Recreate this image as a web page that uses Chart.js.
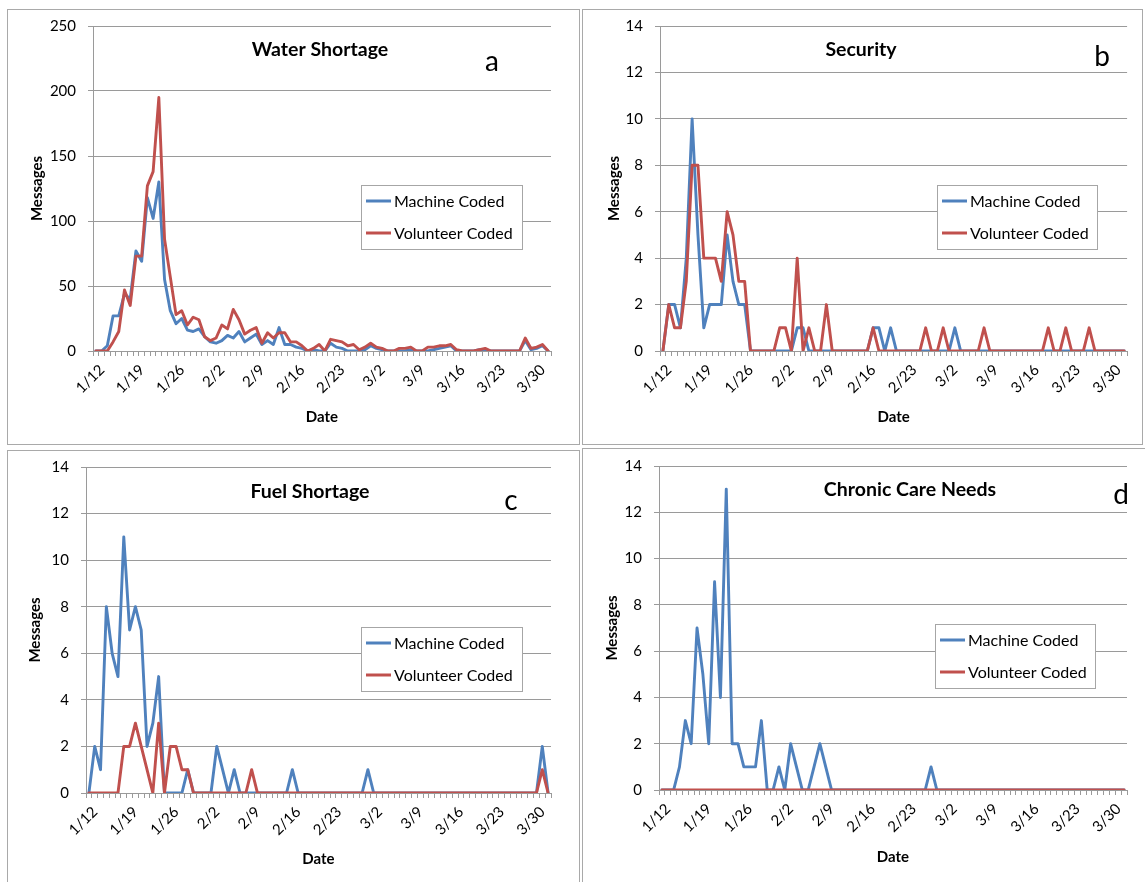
<!DOCTYPE html>
<html>
<head>
<meta charset="utf-8">
<title>Message counts by topic</title>
<script src="https://cdn.jsdelivr.net/npm/chart.js@4.4.1/dist/chart.umd.min.js"></script>
<style>
  html, body { margin: 0; padding: 0; background: #fff; }
  #page { position: relative; width: 1145px; height: 882px; overflow: hidden; background: #fff; }
  .panel { position: absolute; border: 1px solid #a9a9a9; box-sizing: border-box; background: #fff; }
  .panel canvas { position: absolute; left: 0; top: 0; }
</style>
</head>
<body>
<div id="page"></div>

<script>
const dates = [
  '1/12','1/13','1/14','1/15','1/16','1/17','1/18','1/19','1/20','1/21',
  '1/22','1/23','1/24','1/25','1/26','1/27','1/28','1/29','1/30','1/31',
  '2/1','2/2','2/3','2/4','2/5','2/6','2/7','2/8','2/9','2/10',
  '2/11','2/12','2/13','2/14','2/15','2/16','2/17','2/18','2/19','2/20',
  '2/21','2/22','2/23','2/24','2/25','2/26','2/27','2/28','3/1','3/2',
  '3/3','3/4','3/5','3/6','3/7','3/8','3/9','3/10','3/11','3/12',
  '3/13','3/14','3/15','3/16','3/17','3/18','3/19','3/20','3/21','3/22',
  '3/23','3/24','3/25','3/26','3/27','3/28','3/29','3/30','3/31','4/1'
];
const weekLabels = ['1/12','1/19','1/26','2/2','2/9','2/16','2/23','3/2','3/9','3/16','3/23','3/30'];

const waterMachine = [
  0,0,4,27,27,44,40,77,69,118, 102,130,55,31,21,25,16,15,17,11,
  7,6,8,12,10,15,7,10,13,5, 8,5,18,5,5,3,2,0,1,0,
  0,6,3,2,0,0,0,1,4,2, 1,0,0,0,0,1,0,0,0,1,
  2,3,4,0,0,0,0,1,1,0, 0,0,0,0,0,8,1,2,4,0
];
const waterVolunteer = [
  0,0,0,7,15,47,35,73,73,127, 138,195,86,57,28,31,20,26,24,11,
  8,10,20,17,32,24,13,16,18,6, 14,10,14,14,7,7,4,0,2,5,
  0,9,8,7,4,5,1,3,6,3, 2,0,0,2,2,3,0,0,3,3,
  4,4,5,1,0,0,0,1,2,0, 0,0,0,0,0,10,2,3,5,0
];
const securityMachine = [
  0,2,2,1,4,10,5,1,2,2, 2,5,3,2,2,0,0,0,0,0,
  0,0,0,1,1,0,0,0,0,0, 0,0,0,0,0,0,1,1,0,1,
  0,0,0,0,0,0,0,0,0,0, 1,0,0,0,0,0,0,0,0,0,
  0,0,0,0,0,0,0,0,0,0, 0,0,0,0,0,0,0,0,0,0
];
const securityVolunteer = [
  0,2,1,1,3,8,8,4,4,4, 3,6,5,3,3,0,0,0,0,0,
  1,1,0,4,0,1,0,0,2,0, 0,0,0,0,0,0,1,0,0,0,
  0,0,0,0,0,1,0,0,1,0, 0,0,0,0,0,1,0,0,0,0,
  0,0,0,0,0,0,1,0,0,1, 0,0,0,1,0,0,0,0,0,0
];
const fuelMachine = [
  0,2,1,8,6,5,11,7,8,7, 2,3,5,0,0,0,0,1,0,0,
  0,0,2,1,0,1,0,0,0,0, 0,0,0,0,0,1,0,0,0,0,
  0,0,0,0,0,0,0,0,1,0, 0,0,0,0,0,0,0,0,0,0,
  0,0,0,0,0,0,0,0,0,0, 0,0,0,0,0,0,0,0,2,0
];
const fuelVolunteer = [
  0,0,0,0,0,0,2,2,3,2, 1,0,3,0,2,2,1,1,0,0,
  0,0,0,0,0,0,0,0,1,0, 0,0,0,0,0,0,0,0,0,0,
  0,0,0,0,0,0,0,0,0,0, 0,0,0,0,0,0,0,0,0,0,
  0,0,0,0,0,0,0,0,0,0, 0,0,0,0,0,0,0,0,1,0
];
const chronicMachine = [
  0,0,0,1,3,2,7,5,2,9, 4,13,2,2,1,1,1,3,0,0,
  1,0,2,1,0,0,1,2,1,0, 0,0,0,0,0,0,0,0,0,0,
  0,0,0,0,0,0,1,0,0,0, 0,0,0,0,0,0,0,0,0,0,
  0,0,0,0,0,0,0,0,0,0, 0,0,0,0,0,0,0,0,0,0
];
const chronicVolunteer = [
  0,0,0,0,0,0,0,0,0,0, 0,0,0,0,0,0,0,0,0,0,
  0,0,0,0,0,0,0,0,0,0, 0,0,0,0,0,0,0,0,0,0,
  0,0,0,0,0,0,0,0,0,0, 0,0,0,0,0,0,0,0,0,0,
  0,0,0,0,0,0,0,0,0,0, 0,0,0,0,0,0,0,0,0,0
];

const seriesNames  = ['Machine Coded', 'Volunteer Coded'];
const seriesColors = ['#4F81BD', '#C0504D'];

const FONT = 'Lato, "Open Sans", sans-serif';
const GRID = '#9a9a9a';

// page coordinates of each panel: frame, plot area, and the text bits
const panels = [
  { title: 'Water Shortage', letter: 'a', machine: waterMachine, volunteer: waterVolunteer, yMax: 250, yStep: 50,
    box: { left: 7, top: 9, right: 580, bottom: 445 }, plot: { left: 93, right: 551, top: 26, bottom: 351 },
    titleAt: [320, 50], letterAt: [492, 62], legend: [361, 185, 522, 249], yTitleX: 37, xTitleY: 417 },
  { title: 'Security', letter: 'b', machine: securityMachine, volunteer: securityVolunteer, yMax: 14, yStep: 2,
    box: { left: 582, top: 9, right: 1143, bottom: 445 }, plot: { left: 660, right: 1128, top: 26, bottom: 351 },
    titleAt: [861, 50], letterAt: [1102, 57], legend: [937, 185, 1097, 249], yTitleX: 614, xTitleY: 417 },
  { title: 'Fuel Shortage', letter: 'c', machine: fuelMachine, volunteer: fuelVolunteer, yMax: 14, yStep: 2,
    box: { left: 7, top: 450, right: 580, bottom: 890 }, plot: { left: 86, right: 551, top: 467, bottom: 793 },
    titleAt: [310, 492], letterAt: [511, 501], legend: [361, 627, 522, 691], yTitleX: 35, xTitleY: 859 },
  { title: 'Chronic Care Needs', letter: 'd', machine: chronicMachine, volunteer: chronicVolunteer, yMax: 14, yStep: 2,
    box: { left: 582, top: 448, right: 1148, bottom: 890 }, plot: { left: 659, right: 1127, top: 466, bottom: 790 },
    titleAt: [910, 490], letterAt: [1121, 495], legend: [935, 624, 1095, 688], yTitleX: 612, xTitleY: 857 }
];

const reliefCharts = {
  _charts: [],

  // title, panel letter and the boxed legend sitting inside the plot
  _decorPlugin: {
    id: 'panelDecor',
    afterDraw(chart, args, opts) {
      const { ctx } = chart;
      const ox = opts.originX, oy = opts.originY;
      ctx.save();
      ctx.fillStyle = '#000';
      ctx.textAlign = 'center';
      ctx.textBaseline = 'middle';
      ctx.font = `bold 19.5px ${FONT}`;
      ctx.fillText(opts.title, opts.titleAt[0] - ox, opts.titleAt[1] - oy);
      ctx.font = `28px ${FONT}`;
      ctx.fillText(opts.letter, opts.letterAt[0] - ox, opts.letterAt[1] - oy);

      const [l, t, r, b] = opts.legend;
      const x0 = l - ox, y0 = t - oy;
      ctx.fillStyle = '#fff';
      ctx.fillRect(x0, y0, r - l, b - t);
      ctx.strokeStyle = '#a6a6a6';
      ctx.lineWidth = 1;
      ctx.strokeRect(x0 + 0.5, y0 + 0.5, r - l, b - t);
      const rowH = (b - t) / 2;
      seriesNames.forEach((name, k) => {
        const y = y0 + rowH * (k + 0.5);
        ctx.strokeStyle = seriesColors[k];
        ctx.lineWidth = 3;
        ctx.beginPath();
        ctx.moveTo(x0 + 5, y);
        ctx.lineTo(x0 + 30, y);
        ctx.stroke();
        ctx.fillStyle = '#000';
        ctx.textAlign = 'left';
        ctx.font = `16px ${FONT}`;
        ctx.fillText(name, x0 + 33, y + 1);
      });
      ctx.restore();
    }
  },

  init() {
    const page = document.getElementById('page');
    panels.forEach(p => this._drawPanel(page, p));
  },

  _drawPanel(page, p) {
    const { box, plot } = p;
    const div = document.createElement('div');
    div.className = 'panel';
    Object.assign(div.style, {
      left: box.left + 'px', top: box.top + 'px',
      width: (box.right - box.left) + 'px', height: (box.bottom - box.top) + 'px'
    });
    const canvas = document.createElement('canvas');
    const ox = box.left + 1, oy = box.top + 1;
    const cw = box.right - box.left - 2, ch = box.bottom - box.top - 2;
    canvas.width = cw;
    canvas.height = ch;
    canvas.style.width = cw + 'px';
    canvas.style.height = ch + 'px';
    div.appendChild(canvas);
    page.appendChild(div);

    const titleSize = 15, half = titleSize * 1.2 / 2;
    const yAxisW = plot.left - ox;
    const xAxisH = (oy + ch) - plot.bottom;

    const line = (data, k, order) => ({
      label: seriesNames[k],
      data,
      borderColor: seriesColors[k],
      backgroundColor: seriesColors[k],
      borderWidth: 2.9,
      borderJoinStyle: 'round',
      borderCapStyle: 'round',
      pointRadius: 0,
      tension: 0,
      fill: false,
      order
    });

    this._charts.push(new Chart(canvas, {
      type: 'line',
      data: {
        labels: dates,
        datasets: [line(p.machine, 0, 1), line(p.volunteer, 1, 0)]
      },
      options: {
        responsive: false,
        animation: false,
        devicePixelRatio: 1,
        layout: { padding: { left: 0, top: plot.top - oy, right: (ox + cw) - plot.right, bottom: 0 } },
        plugins: {
          legend: { display: false },
          tooltip: { enabled: false },
          panelDecor: {
            originX: ox, originY: oy, title: p.title, letter: p.letter,
            titleAt: p.titleAt, letterAt: p.letterAt, legend: p.legend
          }
        },
        scales: {
          x: {
            type: 'category',
            offset: true,
            grid: { display: true, drawOnChartArea: false, offset: true, tickLength: 5, color: GRID },
            border: { display: true, color: GRID, width: 1 },
            ticks: {
              autoSkip: false, minRotation: 45, maxRotation: 45, padding: 5, labelOffset: 6,
              color: '#000', font: { family: FONT, size: 15 },
              callback(value, index) { return weekLabels.includes(dates[index]) ? dates[index] : ''; }
            },
            title: {
              display: true, text: 'Date', color: '#000',
              font: { family: FONT, size: titleSize, weight: 'bold' },
              padding: { top: 0, bottom: (oy + ch) - p.xTitleY - half }
            },
            afterFit(scale) { scale.height = xAxisH; }
          },
          y: {
            min: 0, max: p.yMax,
            grid: { color: GRID, lineWidth: 1, tickLength: 5 },
            border: { display: true, color: GRID, width: 1 },
            ticks: { stepSize: p.yStep, padding: 12, color: '#000', font: { family: FONT, size: 15 } },
            title: {
              display: true, text: 'Messages', color: '#000',
              font: { family: FONT, size: titleSize, weight: 'bold' },
              padding: { top: p.yTitleX - ox - half, bottom: 0 }
            },
            // tick padding would otherwise push the plot top down
            afterFit(scale) {
              scale.width = yAxisW;
              scale.paddingTop = 0;
              scale.paddingBottom = 0;
            }
          }
        }
      },
      plugins: [this._decorPlugin]
    }));
  }
};

document.addEventListener('DOMContentLoaded', () => reliefCharts.init());
</script>
</body>
</html>
